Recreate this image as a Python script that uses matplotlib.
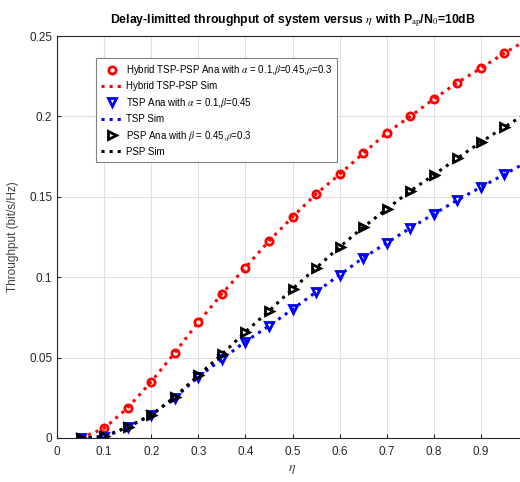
import numpy as np
import matplotlib.pyplot as plt

plt.rcParams['font.family'] = ['Liberation Sans', 'DejaVu Sans']
plt.rcParams['mathtext.fontset'] = 'stix'

# eta values and throughput
eta = [0.05, 0.1, 0.15, 0.2, 0.25, 0.3, 0.35, 0.4, 0.45, 0.5,
       0.55, 0.6, 0.65, 0.7, 0.75, 0.8, 0.85, 0.9, 0.95, 1.0]
hybrid_ana = [0.0, 0.006, 0.0187, 0.035, 0.053, 0.072, 0.0896, 0.106, 0.1225, 0.1374,
              0.1517, 0.164, 0.177, 0.1897, 0.200, 0.2108, 0.221, 0.230, 0.2394, 0.248]
hybrid_sim = hybrid_ana
tsp_ana = [0.0, 0.0005, 0.0068, 0.0143, 0.025, 0.038, 0.049, 0.060, 0.0697, 0.080,
           0.0908, 0.1014, 0.112, 0.1213, 0.1306, 0.1393, 0.148, 0.156, 0.164, 0.172]
tsp_sim = tsp_ana
psp_ana = [0.0, 0.001, 0.0068, 0.0143, 0.0255, 0.039, 0.052, 0.066, 0.079, 0.0927,
           0.1057, 0.1188, 0.131, 0.1424, 0.1536, 0.1636, 0.174, 0.184, 0.1934, 0.2025]
psp_sim = psp_ana

fig = plt.figure(figsize=(5.2, 4.82), dpi=100)
ax = fig.add_axes([0.1096, 0.0913, 0.9058, 0.834])

mk = dict(markerfacecolor='none', markersize=5.2, markeredgewidth=2, linestyle='none')
ax.plot(eta, hybrid_ana, 'o', color='red', label=r'Hybrid TSP-PSP Ana with $\alpha$ = 0.1,$\beta$=0.45,$\rho$=0.3', **mk)
ax.plot(eta, hybrid_sim, ':', color='red', lw=2.2, label='Hybrid TSP-PSP Sim')
ax.plot(eta, tsp_ana, 'v', color='blue', label=r'TSP Ana with $\alpha$ = 0.1,$\beta$=0.45', **mk)
ax.plot(eta, tsp_sim, ':', color='blue', lw=2.2, label='TSP Sim')
ax.plot(eta, psp_ana, '>', color='black', label=r'PSP Ana with $\beta$ = 0.45,$\rho$=0.3', **mk)
ax.plot(eta, psp_sim, ':', color='black', lw=2.2, label='PSP Sim')

ax.set_xlim(0, 1)
ax.set_ylim(0, 0.25)
ax.set_xticks(np.arange(0, 1.0, 0.1))
ax.set_xticklabels(['0', '0.1', '0.2', '0.3', '0.4', '0.5', '0.6', '0.7', '0.8', '0.9'])
ax.set_yticks([0, 0.05, 0.1, 0.15, 0.2, 0.25])
ax.set_yticklabels(['0', '0.05', '0.1', '0.15', '0.2', '0.25'])
ax.grid(True, color='#e0e0e0', lw=0.8)
ax.tick_params(direction='in', labelsize=8.5, colors='#262626', length=3)
ax.tick_params(axis='x', pad=6)
for s in ax.spines.values():
    s.set_color('#262626')
    s.set_linewidth(0.8)

ax.set_xlabel(r'$\eta$', fontsize=10, color='#404040', labelpad=3)
ax.set_ylabel('Throughput (bit/s/Hz)', fontsize=8.5, color='#404040', labelpad=7)
ax.set_title(r'Delay-limitted throughput of system versus $\eta$ with P$_{\mathrm{ap}}$/N$_0$=10dB',
             fontsize=8.8, fontweight='bold', pad=9)

leg = ax.legend(loc='upper left', bbox_to_anchor=(0.073, 0.957), fontsize=7.0,
                frameon=True, fancybox=False, edgecolor='#808080', framealpha=1,
                handlelength=2.2, handletextpad=0.4, labelspacing=0.45, borderpad=0.5)
leg.get_frame().set_linewidth(0.8)

fig.savefig('out.png', dpi=100)
